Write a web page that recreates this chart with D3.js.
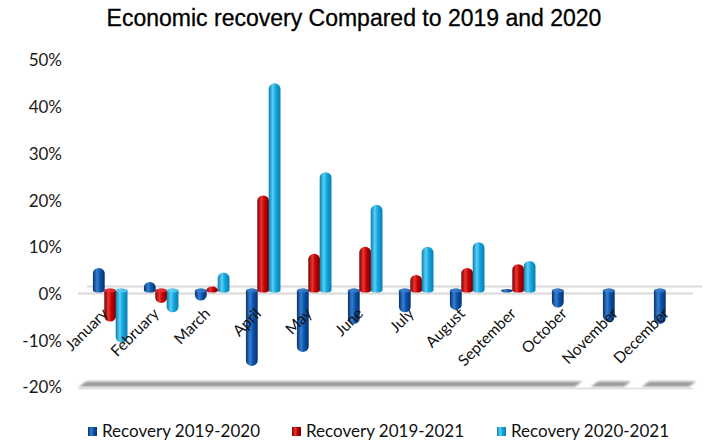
<!DOCTYPE html>
<html>
<head>
<meta charset="utf-8">
<script src="https://cdn.jsdelivr.net/npm/d3@7/dist/d3.min.js"></script>
<style>
html,body{margin:0;padding:0;background:#fff;}
svg{display:block;}
</style>
</head>
<body>
<svg id="chart" width="708" height="443"></svg>
<script>
const months = ["January","February","March","April","May","June","July","August","September","October","November","December"];
const seriesNames = ["Recovery 2019-2020","Recovery 2019-2021","Recovery 2020-2021"];
const recovery2019_2020 = [5.5, 2.5, -1.5, -15.5, -12.5, -6.5, -4, -3.5, 0.4, -3, -6, -6.5];
const recovery2019_2021 = [-6, -2, 1.5, 21, 8.5, 10, 4, 5.5, 6.3, null, null, null];
const recovery2020_2021 = [-10.5, -4, 4.5, 45, 26, 19, 10, 11, 7, null, null, null];
const yTicks = [-20, -10, 0, 10, 20, 30, 40, 50];
const title = "Economic recovery Compared to 2019 and 2020";

const colors = [
  {dark:"#06306e", mid:"#0b55ad", light:"#3a7ed0"},
  {dark:"#760000", mid:"#c40000", light:"#ec3434"},
  {dark:"#0a7db0", mid:"#12a6df", light:"#5ccff4"}
];

const svg = d3.select("#chart");
const W = 708, H = 443;
const defs = svg.append("defs");
colors.forEach((c,i)=>{
  const g = defs.append("linearGradient").attr("id","cyl"+i).attr("x1","0").attr("x2","1").attr("y1","0").attr("y2","0");
  g.append("stop").attr("offset","0%").attr("stop-color",c.dark);
  g.append("stop").attr("offset","35%").attr("stop-color",c.light);
  g.append("stop").attr("offset","60%").attr("stop-color",c.mid);
  g.append("stop").attr("offset","100%").attr("stop-color",c.dark);
});
const blur = defs.append("filter").attr("id","blur").attr("x","-5%").attr("y","-50%").attr("width","110%").attr("height","200%");
blur.append("feGaussianBlur").attr("stdDeviation","1.1");
const floorGrad = defs.append("linearGradient").attr("id","floorG").attr("x1","0").attr("x2","0").attr("y1","0").attr("y2","1");
floorGrad.append("stop").attr("offset","0%").attr("stop-color","#c4c4c4");
floorGrad.append("stop").attr("offset","50%").attr("stop-color","#8f8f8f");
floorGrad.append("stop").attr("offset","100%").attr("stop-color","#b4b4b4");

const y = d3.scaleLinear().domain([-20, 50]).range([387, 60]);
const x0 = d3.scaleBand().domain(months).range([84.5, 696.5]).paddingInner(0.33).paddingOuter(0.165);
const x1 = d3.scaleBand().domain(seriesNames).range([0, x0.bandwidth()]);

// title
svg.append("text").attr("x", W/2).attr("y", 26).attr("text-anchor","middle")
  .attr("font-family","Liberation Sans, Arial, sans-serif").attr("font-size", 23).attr("fill","#000")
  .attr("stroke","#000").attr("stroke-width",0.3)
  .text(title);

// y axis labels
const yAxis = d3.axisLeft(y).tickValues(yTicks).tickFormat(d => d + "%").tickSize(0).tickPadding(0);
const ya = svg.append("g").attr("transform","translate(62,0)").call(yAxis);
ya.select(".domain").remove();
ya.selectAll("text").attr("font-family","Lato, sans-serif").attr("font-size",17).attr("fill","#1a1a1a").attr("dy","0.35em");

// floor lines (3D floor at zero)
const zeroY = y(0);
const depth = 7;
const xL = x0.range()[0], xR = x0.range()[1];
svg.append("line").attr("x1", xL + 2.5).attr("x2", xR + 5.5).attr("y1", zeroY - depth).attr("y2", zeroY - depth)
  .attr("stroke","#d9d9d9").attr("stroke-width",2);
svg.append("line").attr("x1", xL - 6.5).attr("x2", xR - 3.5).attr("y1", zeroY).attr("y2", zeroY)
  .attr("stroke","#d9d9d9").attr("stroke-width",2);

// bottom floor shadow
const by = y(-20);
const segs = [[xL - 6, xR - 122], [xR - 106, xR - 73], [xR - 55, xR - 8]];
segs.forEach(s=>{
  svg.append("path")
    .attr("d", `M${s[0]},${by} L${s[0]+8},${by-6} L${s[1]+8},${by-6} L${s[1]},${by} Z`)
    .attr("fill","url(#floorG)").attr("filter","url(#blur)");
});
svg.append("line").attr("x1", xL - 6.5).attr("x2", xR - 3.5).attr("y1", by + 1.5).attr("y2", by + 1.5)
  .attr("stroke","#dcdcdc").attr("stroke-width",1.5);

// bars
const data = [recovery2019_2020, recovery2019_2021, recovery2020_2021];
const baseY = zeroY - 3;
function barPath(xa, w, v){
  const yv = y(v);
  const rx = w/2;
  const h = Math.abs(baseY - yv);
  const ry = Math.min(5.5, Math.max(h, 1.5));
  if (v >= 0) {
    const top = Math.min(yv, baseY - 1.5);
    return `M${xa},${baseY} L${xa},${top+ry} A${rx},${ry} 0 0 1 ${xa+w},${top+ry} L${xa+w},${baseY} A${rx},2 0 0 1 ${xa},${baseY} Z`;
  } else {
    return `M${xa},${baseY} L${xa},${yv-ry} A${rx},${ry} 0 0 0 ${xa+w},${yv-ry} L${xa+w},${baseY} A${rx},2 0 0 0 ${xa},${baseY} Z`;
  }
}
const gBars = svg.append("g");
months.forEach((m, mi)=>{
  seriesNames.forEach((s, si)=>{
    const v = data[si][mi];
    if (v === null || v === undefined) return;
    const xa = x0(m) + x1(s);
    const w = x1.bandwidth() + 0.4;
    gBars.append("path").attr("d", barPath(xa, w, v)).attr("fill", `url(#cyl${si})`);
    if (v < 0) {
      gBars.append("ellipse").attr("cx", xa + w/2).attr("cy", baseY).attr("rx", w/2).attr("ry", 2)
        .attr("fill", colors[si].light).attr("opacity", 0.8);
    }
  });
});

// month labels
const gx = svg.append("g");
months.forEach(m=>{
  const cx = x0(m) + x0.bandwidth()/2 - 1;
  const cy = zeroY + 21;
  gx.append("text").attr("transform", `translate(${cx},${cy}) rotate(-45)`)
    .attr("text-anchor","end").attr("font-family","Lato, sans-serif").attr("font-size",15.5).attr("fill","#111")
    .text(m);
});

// legend
const legX = [88, 292, 497];
const lg = svg.append("g");
seriesNames.forEach((s,i)=>{
  lg.append("rect").attr("x", legX[i]).attr("y", 427).attr("width", 9).attr("height", 9).attr("fill", `url(#cyl${i})`);
  lg.append("text").attr("x", legX[i] + 14).attr("y", 437).attr("font-family","Lato, sans-serif").attr("font-size",17).attr("fill","#111").text(s);
});
</script>
</body>
</html>
